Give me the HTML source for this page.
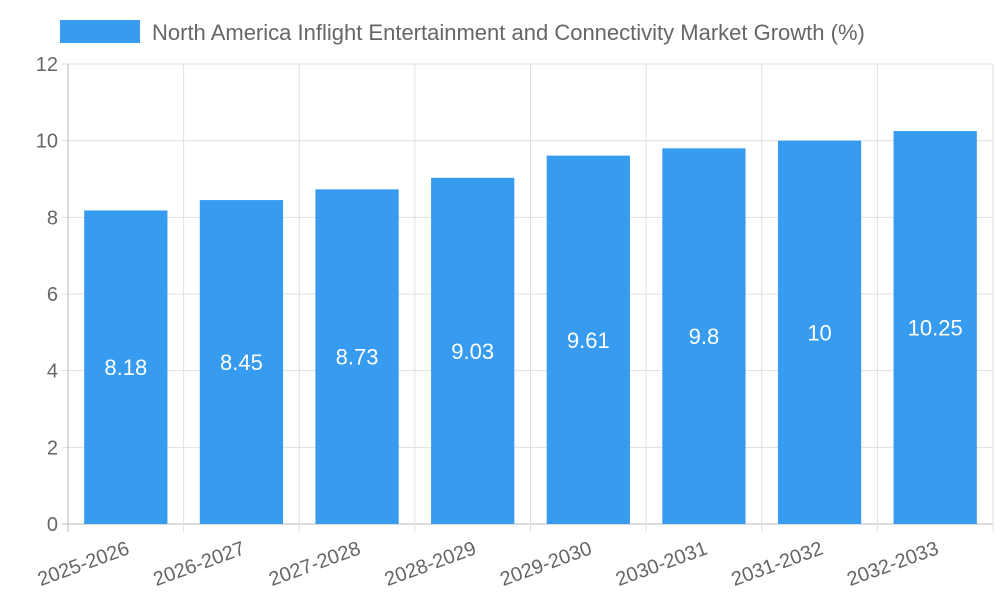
<!DOCTYPE html>
<html><head><meta charset="utf-8"><style>
body{margin:0;background:#fff;width:1000px;height:600px;overflow:hidden}
svg text{font-family:"Liberation Sans",sans-serif}
</style></head><body>
<svg id="chart" width="1000" height="600">
<rect x="60" y="20" width="80" height="23" fill="#379bf0"/>
<text x="152" y="40" font-size="22" fill="#666">North America Inflight Entertainment and Connectivity Market Growth (%)</text>
<g id="grid"></g><g id="bars"></g><g id="labels"></g>
</svg>
<script>
const categories=["2025-2026","2026-2027","2027-2028","2028-2029","2029-2030","2030-2031","2031-2032","2032-2033"];
const values=[8.18,8.45,8.73,9.03,9.61,9.8,10,10.25];
const yTicks=[0,2,4,6,8,10,12];
const NS="http://www.w3.org/2000/svg";
const L=68,R=993,T=64,B=524,yMax=12;
const bw=(R-L)/categories.length;
const y=v=>B-(v/yMax)*(B-T);
const x=i=>L+bw*i;
function mk(tag,attrs,parent,txt){const e=document.createElementNS(NS,tag);for(const k in attrs)e.setAttribute(k,attrs[k]);if(txt!==undefined)e.textContent=txt;document.getElementById(parent).appendChild(e);return e;}
yTicks.forEach(t=>{
 const g=mk("line",{x1:L-6,x2:R,y1:y(t),y2:y(t),stroke:t===0?"#bbb":"#e0e0e0","stroke-width":1},"grid");
 
 
 const tx=mk("text",{x:L-10,y:y(t)+7,"text-anchor":"end","font-size":20,fill:"#666"},"labels",String(t));
 
 
});
for(let i=0;i<=categories.length;i++){
 const g=mk("line",{x1:x(i),x2:x(i),y1:T,y2:B+8,stroke:i===0?"#bbb":"#e0e0e0","stroke-width":1},"grid");
 
 
}
categories.forEach((c,i)=>{
 const cx=x(i)+bw/2, w=bw*0.72;
 const r=mk("rect",{x:cx-w/2,y:y(values[i]),width:w,height:B-y(values[i]),fill:"#379bf0"},"bars");
 
 
 const v=mk("text",{x:cx,y:(y(values[i])+B)/2+8,"text-anchor":"middle","font-size":22,fill:"#fff"},"labels",String(values[i]));
 
 
 const lx=cx+2, ly=B+22;
 const t=mk("text",{x:lx,y:ly+8,"text-anchor":"end","font-size":20,fill:"#666",transform:`rotate(-20 ${lx} ${ly})`},"labels",c);
 
 
});
</script>
</body></html>
